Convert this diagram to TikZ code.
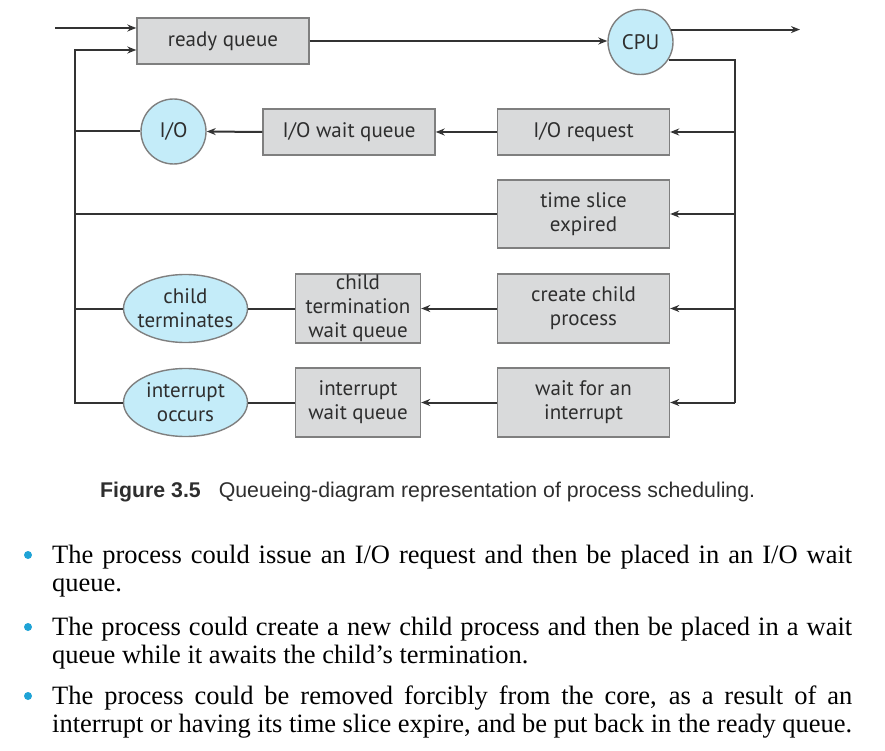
\documentclass[tikz,border=0pt]{standalone}
\usepackage{fontspec}
\setmainfont{Liberation Serif}
\newfontfamily\labelfont{PT Sans}
\newfontfamily\capfont{Liberation Sans}
\usetikzlibrary{arrows.meta,shapes.geometric}
\definecolor{boxfill}{HTML}{D9DADB}
\definecolor{boxline}{HTML}{7F7F7F}
\definecolor{cyanfill}{HTML}{C4ECF9}
\definecolor{linecol}{HTML}{333333}
\definecolor{txtcol}{HTML}{2E2E2E}
\definecolor{bulletcol}{HTML}{1FA3D6}
\begin{document}
\begin{tikzpicture}[x=1pt,y=-1pt,
  lbl/.style={text=txtcol,font=\labelfont\fontsize{21}{24}\selectfont},
  qbox/.style={lbl,draw=boxline,fill=boxfill,line width=1.4pt,minimum width=172pt,minimum height=46pt,inner sep=0pt,align=center},
  qcirc/.style={lbl,circle,draw=boxline,fill=cyanfill,line width=1.4pt,minimum size=65pt,inner sep=0pt},
  qell/.style={lbl,ellipse,draw=boxline,fill=cyanfill,line width=1.4pt,minimum width=124pt,minimum height=68pt,inner xsep=-10pt,inner ysep=0pt,align=center},
  conn/.style={draw=linecol,line width=2pt},
  arr/.style={conn,-{Stealth[length=9pt,width=7pt]}},
  bodytxt/.style={anchor=base west,inner sep=0pt,font=\fontsize{26.5}{28}\selectfont,text=black},
  bul/.style={circle,fill=bulletcol,inner sep=0pt,minimum size=8pt}
]
\useasboundingbox (0,0) rectangle (885,751);
% nodes
\node[qbox] (rq) at (223,41) {ready queue};
\node[qcirc] (cpu) at (640.5,42) {CPU};
\node[qbox] (iorq) at (583.5,132) {I/O request};
\node[qbox] (iowq) at (349,132) {I/O wait queue};
\node[qcirc] (io) at (173.5,131.5) {I/O};
\node[qbox,minimum height=68pt] (ts) at (583.5,214) {time slice\\expired};
\node[qbox,minimum height=69pt] (cc) at (583.5,308.5) {create child\\process};
\node[qbox,minimum width=125pt,minimum height=69pt] (ctq) at (358,308.5) {child\\termination\\wait queue};
\node[qell] (ct) at (185.5,308.5) {child\\terminates};
\node[qbox,minimum height=69pt] (wi) at (583.5,402.5) {wait for an\\interrupt};
\node[qbox,minimum width=125pt,minimum height=69pt] (iwq) at (358,402.5) {interrupt\\wait queue};
\node[qell] (ie) at (185.5,402.5) {interrupt\\occurs};
% helper coordinates
\coordinate (in) at (55,28);
\coordinate (lx) at (75,0);
\coordinate (rx) at (735,0);
\coordinate (outx) at (800,0);
\coordinate (rqlow) at ([yshift=-9pt]rq.west);
% connectors
\draw[arr] (in) -- (in -| rq.west);
\draw[arr] (rq.east) -- (rq.east -| cpu.west);
\draw[arr] (cpu.22) -- (cpu.22 -| outx);
\draw[conn] (cpu.-32) -- (cpu.-32 -| rx) -- (wi.east -| rx);
\draw[arr] (iorq.east -| rx) -- (iorq.east);
\draw[arr] (ts.east -| rx) -- (ts.east);
\draw[arr] (cc.east -| rx) -- (cc.east);
\draw[arr] (wi.east -| rx) -- (wi.east);
\draw[arr] (iorq.west) -- (iowq.east);
\draw[arr] (iowq.west) -- (io.east);
\draw[arr] (cc.west) -- (ctq.east);
\draw[conn] (ctq.west) -- (ct.east);
\draw[arr] (wi.west) -- (iwq.east);
\draw[conn] (iwq.west) -- (ie.east);
\draw[conn] (io.west) -- (io.west -| lx);
\draw[conn] (ts.west) -- (ts.west -| lx);
\draw[conn] (ct.west) -- (ct.west -| lx);
\draw[arr] (ie.west) -- (ie.west -| lx) -- (rqlow -| lx) -- (rqlow);
% caption
\node[anchor=base west,inner sep=0pt,text=txtcol,font=\capfont\fontsize{21.3}{24}\selectfont] (cap) at (100,497) {\textbf{Figure 3.5}\hspace{18pt}Queueing-diagram representation of process scheduling.};
% bullets
\node[bul] (b1) at (28,555) {};
\node[bul] (b2) at (28,627) {};
\node[bul] (b3) at (28,696) {};
\node[bodytxt] (t1) at (52,563) {\makebox[800pt][s]{The process could issue an I/O request and then be placed in an I/O wait}};
\node[bodytxt] (t2) at (52,591) {queue.};
\node[bodytxt] (t3) at (52,635) {\makebox[800pt][s]{The process could create a new child process and then be placed in a wait}};
\node[bodytxt] (t4) at (52,663) {queue while it awaits the child’s termination.};
\node[bodytxt] (t5) at (52,704) {\makebox[800pt][s]{The process could be removed forcibly from the core, as a result of an}};
\node[bodytxt] (t6) at (52,732) {\makebox[800pt][s]{interrupt or having its time slice expire, and be put back in the ready queue.}};
\end{tikzpicture}
\end{document}
